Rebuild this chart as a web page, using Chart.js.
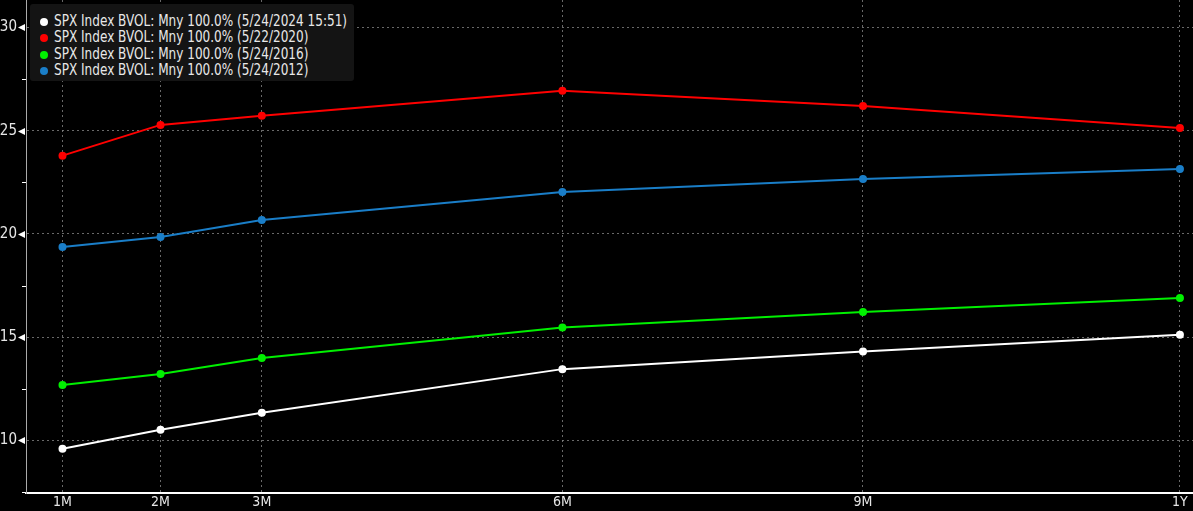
<!DOCTYPE html>
<html>
<head>
<meta charset="utf-8">
<script src="https://cdn.jsdelivr.net/npm/chart.js@4.4.1/dist/chart.umd.min.js"></script>
<style>
  html, body { margin: 0; padding: 0; background: #000; }
  #wrap { position: relative; width: 1193px; height: 511px; }
  #legend {
    position: absolute; left: 30px; top: 4px; width: 324px; height: 77px;
    background: #141414; border-radius: 3px; box-sizing: border-box;
    padding: 9px 0 0 10px;
    font: 15px 'DejaVu Sans Condensed', sans-serif;
    color: #e8e8e8;
  }
  #legend div { height: 16.4px; line-height: 16.4px; white-space: nowrap; }
  #legend span.dot {
    display: inline-block; width: 8px; height: 8px; border-radius: 50%;
    margin-right: 6px; vertical-align: 0px;
  }
  #legend span.txt { display: inline-block; transform: scaleX(0.895); transform-origin: 0 50%; }
</style>
</head>
<body>
<div id="wrap">
  <canvas id="chart" width="1193" height="511"></canvas>
  <div id="legend"></div>
</div>
<script>
// Tenors (x positions in days to expiry) and their labels
const tenorLabels = ['1M', '2M', '3M', '6M', '9M', '1Y'];
const tenorDays = [31, 61, 92, 184, 276, 373];

// ATM implied vol term structures
const vol2024 = [9.59, 10.51, 11.34, 13.45, 14.30, 15.12];
const vol2020 = [23.79, 25.28, 25.72, 26.94, 26.20, 25.13];
const vol2016 = [12.68, 13.21, 13.99, 15.47, 16.22, 16.90];
const vol2012 = [19.37, 19.85, 20.67, 22.03, 22.66, 23.14];

const seriesLabels = [
  'SPX Index BVOL: Mny 100.0% (5/24/2024 15:51)',
  'SPX Index BVOL: Mny 100.0% (5/22/2020)',
  'SPX Index BVOL: Mny 100.0% (5/24/2016)',
  'SPX Index BVOL: Mny 100.0% (5/24/2012)',
];
const seriesColors = ['#ffffff', '#ff0000', '#00f000', '#1a7ec8'];
const seriesValues = [vol2024, vol2020, vol2016, vol2012];

// y-axis ticks: labelled majors every 5, minors in between
const yTicks = [7.5, 10, 12.5, 15, 17.5, 20, 22.5, 25, 27.5, 30];

Chart.defaults.font.family = "'DejaVu Sans Condensed', sans-serif";
Chart.defaults.font.size = 14;
Chart.defaults.color = '#e0e0e0';

const isMajor = v => Math.abs(v % 5) < 1e-6;

// drop the padding Chart.js reserves for edge labels
const noPad = s => {
  s.paddingLeft = 0; s.paddingRight = 0; s.paddingTop = 0; s.paddingBottom = 0;
};

// small markers on the y axis: triangles at majors, short dashes at minors
const yMarkers = {
  id: 'yMarkers',
  afterDraw(chart) {
    const ctx = chart.ctx;
    const y = chart.scales.y;
    const x0 = chart.chartArea.left;
    ctx.save();
    ctx.fillStyle = '#ffffff';
    ctx.strokeStyle = '#ffffff';
    ctx.lineWidth = 1;
    yTicks.forEach(v => {
      const py = Math.round(y.getPixelForValue(v)) + 0.5;
      if (isMajor(v)) {
        ctx.beginPath();
        ctx.moveTo(x0 - 8, py);
        ctx.lineTo(x0 - 1, py - 3.5);
        ctx.lineTo(x0 - 1, py + 3.5);
        ctx.closePath();
        ctx.fill();
      } else {
        ctx.beginPath();
        ctx.moveTo(x0 - 4, py);
        ctx.lineTo(x0, py);
        ctx.stroke();
      }
    });
    ctx.restore();
  }
};

const chart = new Chart(document.getElementById('chart'), {
  type: 'line',
  data: {
    datasets: seriesValues.map((vals, i) => ({
      label: seriesLabels[i],
      data: vals.map((v, j) => ({ x: tenorDays[j], y: v })),
      borderColor: seriesColors[i],
      backgroundColor: seriesColors[i],
      borderWidth: 2,
      pointRadius: 4,
      pointBorderWidth: 0,
      pointHoverRadius: 4,
      tension: 0,
      clip: 6,
    })).reverse(),
  },
  options: {
    responsive: false,
    animation: false,
    events: [],
    layout: { padding: 0, autoPadding: false },
    plugins: {
      legend: { display: false },
      tooltip: { enabled: false },
    },
    scales: {
      x: {
        type: 'linear',
        min: 19.83,
        max: 377,
        afterBuildTicks: s => { s.ticks = tenorDays.map(v => ({ value: v })); },
        afterFit: s => { s.height = 18; noPad(s); },
        ticks: {
          autoSkip: false,
          maxRotation: 0,
          padding: 1,
          color: '#e6e6e6',
          callback: (v, i) => tenorLabels[i],
        },
        grid: {
          color: 'rgba(140,140,140,0.75)',
          drawTicks: false,
        },
        border: { display: true, color: '#ffffff', width: 2, dash: [2, 3] },
      },
      y: {
        min: 7.45,
        max: 31.33,
        afterBuildTicks: s => { s.ticks = yTicks.map(v => ({ value: v })); },
        afterFit: s => { s.width = 26; noPad(s); },
        ticks: {
          autoSkip: false,
          padding: 9,
          color: '#e6e6e6',
          font: { size: 15 },
          callback: v => (isMajor(v) ? String(v) : ''),
        },
        grid: {
          color: ctx => (ctx.tick && isMajor(ctx.tick.value) ? 'rgba(140,140,140,0.75)' : 'rgba(0,0,0,0)'),
          drawTicks: false,
        },
        border: { display: true, color: '#aaaaaa', width: 1, dash: [2, 3] },
      },
    },
  },
  plugins: [yMarkers],
});

// HTML legend built from the series
const legend = document.getElementById('legend');
seriesLabels.forEach((label, i) => {
  const row = document.createElement('div');
  const dot = document.createElement('span');
  dot.className = 'dot';
  dot.style.background = seriesColors[i];
  const txt = document.createElement('span');
  txt.className = 'txt';
  txt.textContent = label;
  row.appendChild(dot);
  row.appendChild(txt);
  legend.appendChild(row);
});
</script>
</body>
</html>
